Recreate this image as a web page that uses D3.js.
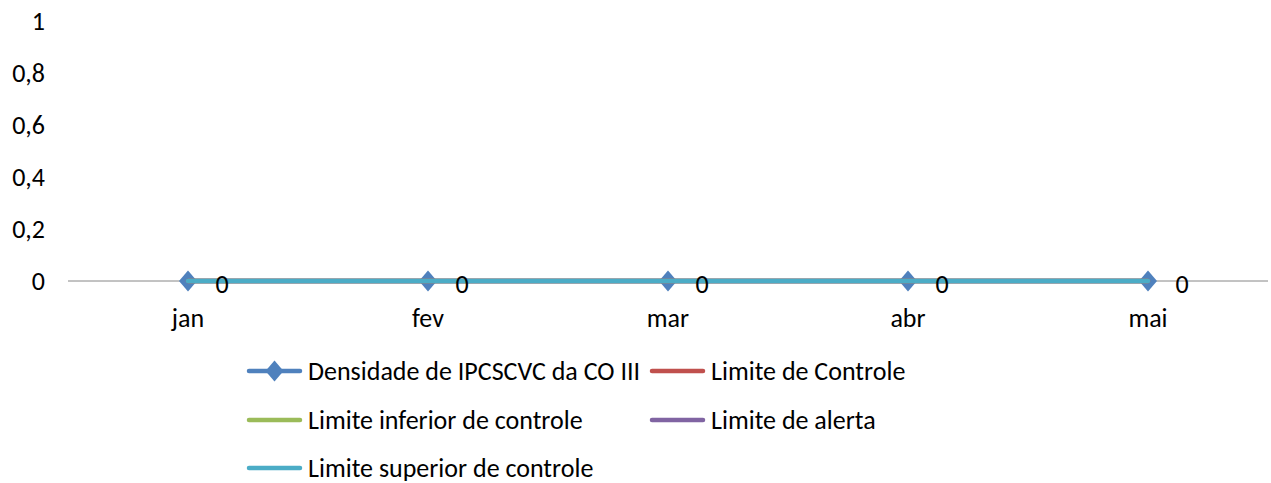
<!DOCTYPE html>
<html>
<head>
<meta charset="utf-8">
<script src="https://cdn.jsdelivr.net/npm/d3@7"></script>
<style>
  body { margin: 0; background: #fff; }
  text { font-family: Carlito, "Open Sans", "Noto Sans", sans-serif; fill: #000; }
</style>
</head>
<body>
<svg width="1271" height="483"></svg>
<script>
var months = ["jan", "fev", "mar", "abr", "mai"];
var densidade = [0, 0, 0, 0, 0];
var limiteControle = [0, 0, 0, 0, 0];
var limiteInferior = [0, 0, 0, 0, 0];
var limiteAlerta = [0, 0, 0, 0, 0];
var limiteSuperior = [0, 0, 0, 0, 0];
var yTicks = [0, 0.2, 0.4, 0.6, 0.8, 1];

var series = [
  {name: "Densidade de IPCSCVC da CO III", values: densidade, color: "#4F81BD", marker: true},
  {name: "Limite de Controle", values: limiteControle, color: "#C0504D"},
  {name: "Limite inferior de controle", values: limiteInferior, color: "#9BBB59"},
  {name: "Limite de alerta", values: limiteAlerta, color: "#8064A2"},
  {name: "Limite superior de controle", values: limiteSuperior, color: "#4BACC6"}
];

var svg = d3.select("svg");
var fontSize = "26px";

var x = d3.scaleBand().domain(months).range([68, 1268]);
var y = d3.scaleLinear().domain([0, 1]).range([281, 21]);
var fmt = function(d) { return String(d).replace(".", ","); };

// y labels (no axis line, no gridlines)
svg.append("g").selectAll("text")
    .data(yTicks)
    .enter().append("text")
    .attr("x", 45)
    .attr("y", function(d) { return y(d); })
    .attr("dy", "0.35em")
    .attr("text-anchor", "end")
    .style("font-size", fontSize)
    .text(fmt);

// x axis line
svg.append("line")
    .attr("x1", x.range()[0]).attr("x2", x.range()[1])
    .attr("y1", y(0)).attr("y2", y(0))
    .attr("stroke", "#868686").attr("stroke-width", 1);

svg.append("g").selectAll("text")
    .data(months)
    .enter().append("text")
    .attr("x", function(d) { return x(d) + x.bandwidth() / 2; })
    .attr("y", 318)
    .attr("dy", "0.35em")
    .attr("text-anchor", "middle")
    .style("font-size", fontSize)
    .text(function(d) { return d; });

var line = d3.line()
    .x(function(d, i) { return x(months[i]) + x.bandwidth() / 2; })
    .y(function(d) { return y(d); });

// slightly tall diamond like the original marker
var diamondShape = {
  draw: function(ctx) {
    ctx.moveTo(0, -10.5);
    ctx.lineTo(9, 0);
    ctx.lineTo(0, 10.5);
    ctx.lineTo(-9, 0);
    ctx.closePath();
  }
};
var diamond = d3.symbol().type(diamondShape);

series.forEach(function(s) {
  svg.append("path")
      .datum(s.values)
      .attr("d", line)
      .attr("fill", "none")
      .attr("stroke", s.color)
      .attr("stroke-width", 4.5)
      .attr("stroke-linecap", "round");
  if (s.marker) {
    svg.append("g").selectAll("path")
        .data(s.values)
        .enter().append("path")
        .attr("d", diamond)
        .attr("fill", s.color)
        .attr("transform", function(d, i) {
          return "translate(" + (x(months[i]) + x.bandwidth() / 2) + "," + y(d) + ")";
        });
  }
});

// data labels for the first series
svg.append("g").selectAll("text")
    .data(densidade)
    .enter().append("text")
    .attr("x", function(d, i) { return x(months[i]) + x.bandwidth() / 2 + 34; })
    .attr("y", y(0) + 3)
    .attr("dy", "0.35em")
    .attr("text-anchor", "middle")
    .style("font-size", fontSize)
    .text(fmt);

// legend
var legendPos = [
  {x: 249, y: 371}, {x: 652, y: 371},
  {x: 249, y: 420}, {x: 652, y: 420},
  {x: 249, y: 468}
];

var legend = svg.append("g").selectAll("g")
    .data(series)
    .enter().append("g")
    .attr("transform", function(d, i) { return "translate(" + legendPos[i].x + "," + legendPos[i].y + ")"; });

legend.append("line")
    .attr("x1", 0).attr("x2", 51)
    .attr("stroke", function(d) { return d.color; })
    .attr("stroke-width", 4.5)
    .attr("stroke-linecap", "round");

legend.filter(function(d) { return d.marker; })
    .append("path")
    .attr("d", diamond)
    .attr("transform", "translate(25.5,0)")
    .attr("fill", function(d) { return d.color; });

legend.append("text")
    .attr("x", 59)
    .attr("dy", "0.35em")
    .style("font-size", fontSize)
    .text(function(d) { return d.name; });
</script>
</body>
</html>
